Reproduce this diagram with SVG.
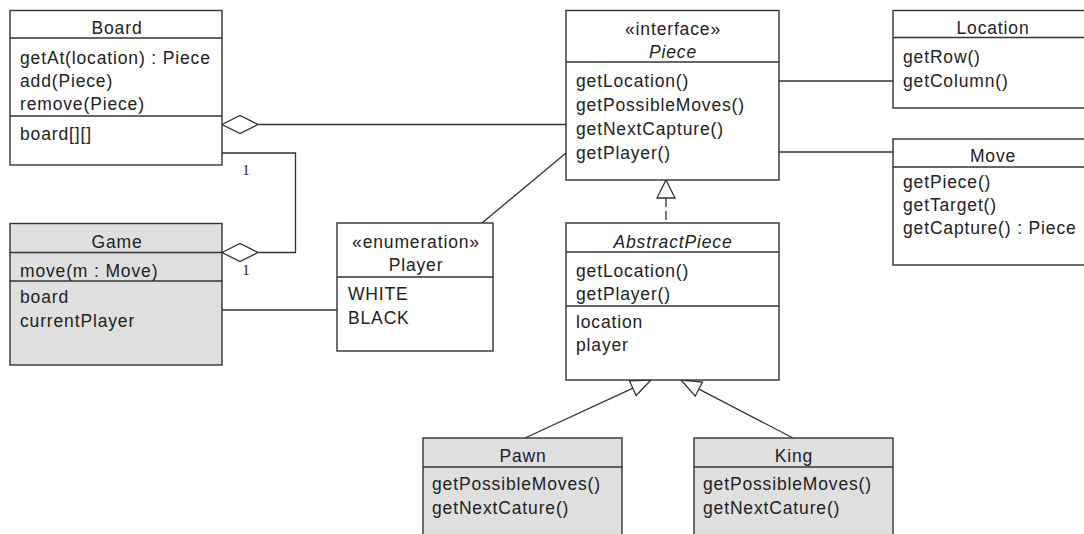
<svg xmlns="http://www.w3.org/2000/svg" width="1084" height="534" viewBox="0 0 1084 534">
<defs>
<style>
.box{fill:#ffffff;stroke:#333333;stroke-width:1.4}
.gray{fill:#dfdfdf}
.sep{stroke:#333333;stroke-width:1.4;fill:none}
.t{font-family:"Liberation Sans",Arial,sans-serif;font-size:17.5px;letter-spacing:0.85px;fill:#222222}
.c{text-anchor:middle}
.i{font-style:italic}
.conn{stroke:#333333;stroke-width:1.3;fill:none}
.head{stroke:#333333;stroke-width:1.3;fill:#ffffff}
.dash{stroke-dasharray:9 4}
.m{font-family:"Liberation Serif","Times New Roman",serif;font-size:15px;fill:#222222;text-anchor:middle}
</style>
</defs>
<rect width="1084" height="534" fill="#ffffff"/>

<g id="connectors">
  <line class="conn" x1="258" y1="124.5" x2="566" y2="124.5"/>
  <polygon class="head" points="222,124.5 240,115.5 258,124.5 240,133.5"/>
  <polyline class="conn" points="222,153 295.5,153 295.5,252.5 258,252.5"/>
  <polygon class="head" points="222,252.5 240,243.5 258,252.5 240,261.5"/>
  <text class="m" x="246" y="175">1</text>
  <text class="m" x="246" y="275">1</text>
  <line class="conn" x1="222" y1="310" x2="337" y2="310"/>
  <line class="conn" x1="482" y1="223" x2="566" y2="153"/>
  <line class="conn" x1="779" y1="81" x2="893" y2="81"/>
  <line class="conn" x1="779" y1="152" x2="893" y2="152"/>
  <line class="conn dash" x1="666" y1="198" x2="666" y2="223"/>
  <polygon class="head" points="666,180 657,198 675,198"/>
  <line class="conn" x1="525" y1="438" x2="633" y2="388.2"/>
  <polygon class="head" points="651,380 629.5,380.9 636.1,395.5"/>
  <line class="conn" x1="793" y1="438" x2="699" y2="389.1"/>
  <polygon class="head" points="681,380 702.4,382 695.2,396.2"/>
</g>

<g id="Board">
  <rect class="box" x="10" y="10.5" width="212" height="154.5"/>
  <line class="sep" x1="10" y1="38" x2="222" y2="38"/>
  <line class="sep" x1="10" y1="116" x2="222" y2="116"/>
  <text class="t c" x="117" y="33.5">Board</text>
  <text class="t" x="20" y="63.5">getAt(location) : Piece</text>
  <text class="t" x="20" y="86.5">add(Piece)</text>
  <text class="t" x="20" y="109.5">remove(Piece)</text>
  <text class="t" x="20" y="140">board[][]</text>
</g>

<g id="Game">
  <rect class="box gray" x="10" y="223.5" width="212" height="141.5"/>
  <line class="sep" x1="10" y1="252.5" x2="222" y2="252.5"/>
  <line class="sep" x1="10" y1="281" x2="222" y2="281"/>
  <text class="t c" x="117" y="247.5">Game</text>
  <text class="t" x="20" y="276.5">move(m : Move)</text>
  <text class="t" x="20" y="303">board</text>
  <text class="t" x="20" y="326.5">currentPlayer</text>
</g>

<g id="Player">
  <rect class="box" x="337" y="223" width="156" height="128"/>
  <line class="sep" x1="337" y1="277" x2="493" y2="277"/>
  <text class="t c" x="416" y="248">«enumeration»</text>
  <text class="t c" x="416" y="271">Player</text>
  <text class="t" x="348" y="300">WHITE</text>
  <text class="t" x="348" y="324">BLACK</text>
</g>

<g id="Piece">
  <rect class="box" x="566" y="10.5" width="213" height="169.5"/>
  <line class="sep" x1="566" y1="62" x2="779" y2="62"/>
  <text class="t c" x="673" y="35">«interface»</text>
  <text class="t c i" x="673" y="58">Piece</text>
  <text class="t" x="576" y="87">getLocation()</text>
  <text class="t" x="576" y="111">getPossibleMoves()</text>
  <text class="t" x="576" y="135">getNextCapture()</text>
  <text class="t" x="576" y="159">getPlayer()</text>
</g>

<g id="Location">
  <rect class="box" x="893" y="10.5" width="200" height="97.5"/>
  <line class="sep" x1="893" y1="37.5" x2="1093" y2="37.5"/>
  <text class="t c" x="993" y="34">Location</text>
  <text class="t" x="903" y="63">getRow()</text>
  <text class="t" x="903" y="86.5">getColumn()</text>
</g>

<g id="Move">
  <rect class="box" x="893" y="139" width="200" height="126"/>
  <line class="sep" x1="893" y1="167" x2="1093" y2="167"/>
  <text class="t c" x="993" y="162">Move</text>
  <text class="t" x="903" y="188">getPiece()</text>
  <text class="t" x="903" y="211">getTarget()</text>
  <text class="t" x="903" y="234">getCapture() : Piece</text>
</g>

<g id="AbstractPiece">
  <rect class="box" x="566" y="223" width="213" height="157"/>
  <line class="sep" x1="566" y1="252" x2="779" y2="252"/>
  <line class="sep" x1="566" y1="306" x2="779" y2="306"/>
  <text class="t c i" x="673" y="248">AbstractPiece</text>
  <text class="t" x="576" y="277">getLocation()</text>
  <text class="t" x="576" y="300">getPlayer()</text>
  <text class="t" x="576" y="328">location</text>
  <text class="t" x="576" y="351">player</text>
</g>

<g id="Pawn">
  <rect class="box gray" x="423" y="438" width="199" height="110"/>
  <line class="sep" x1="423" y1="467" x2="622" y2="467"/>
  <text class="t c" x="523" y="461.5">Pawn</text>
  <text class="t" x="432" y="490">getPossibleMoves()</text>
  <text class="t" x="432" y="514">getNextCature()</text>
</g>

<g id="King">
  <rect class="box gray" x="694" y="438" width="199" height="110"/>
  <line class="sep" x1="694" y1="467" x2="893" y2="467"/>
  <text class="t c" x="794" y="461.5">King</text>
  <text class="t" x="703" y="490">getPossibleMoves()</text>
  <text class="t" x="703" y="514">getNextCature()</text>
</g>
</svg>
